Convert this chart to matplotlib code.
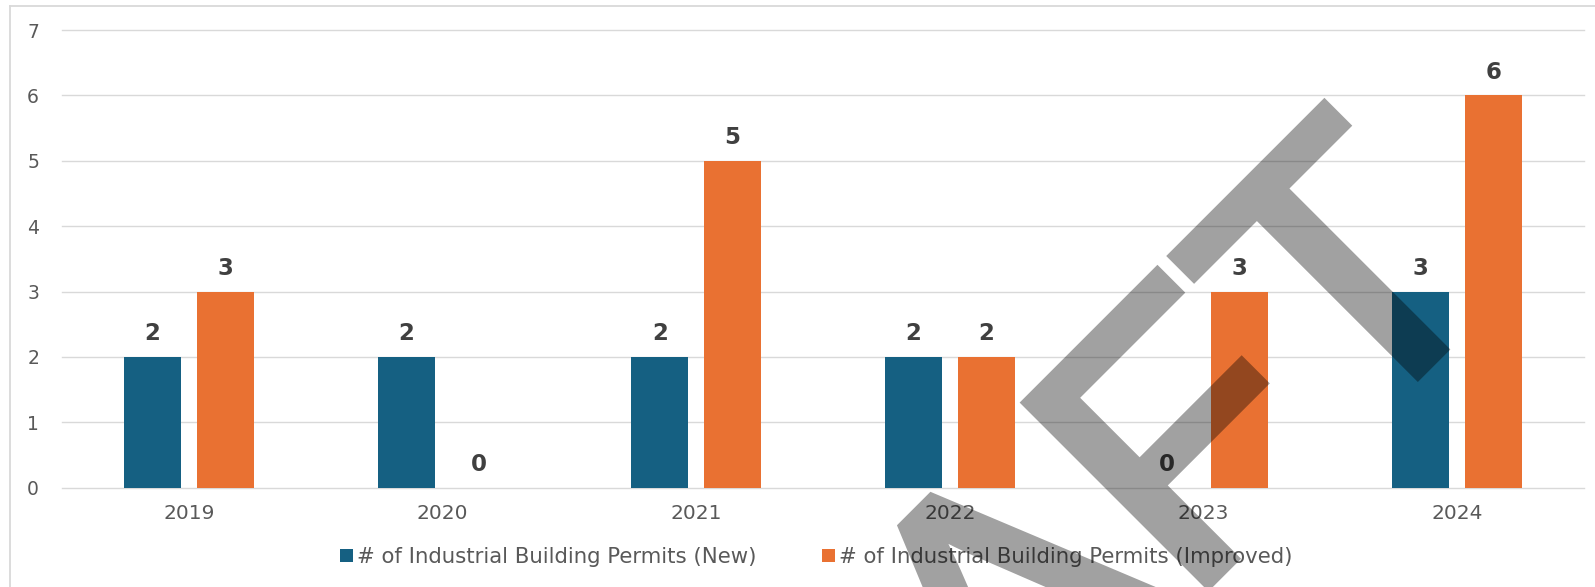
import matplotlib
matplotlib.use('Agg')
import matplotlib.pyplot as plt
from matplotlib.lines import Line2D
from matplotlib.patches import PathPatch
from matplotlib.textpath import TextPath
from matplotlib.font_manager import FontProperties
from matplotlib.transforms import Affine2D
import numpy as np

# ===== DATA =====
years = ['2019', '2020', '2021', '2022', '2023', '2024']
permits_new = [2, 2, 2, 2, 0, 3]
permits_improved = [3, 0, 5, 2, 3, 6]
series_names = ['# of Industrial Building Permits (New)',
                '# of Industrial Building Permits (Improved)']

BLUE = '#156082'
ORANGE = '#E97132'
GRID = '#d9d9d9'
TICK_COLOR = '#595959'
LABEL_COLOR = '#404040'

W, H = 1595, 587
fig = plt.figure(figsize=(W / 100, H / 100), dpi=100)

# chart frame (only left and top edges fall inside the picture)
fig.add_artist(Line2D([9.5 / W, 9.5 / W], [0, 1 - 5.5 / H], color=GRID, lw=1.3,
                      transform=fig.transFigure))
fig.add_artist(Line2D([9.5 / W, 1], [1 - 5.5 / H, 1 - 5.5 / H], color=GRID, lw=1.3,
                      transform=fig.transFigure))

ax = fig.add_axes([62 / W, 1 - 487.7 / H, (1584 - 62) / W, (487.7 - 30) / H])

x = np.arange(len(years))
bw = 0.225
off = 0.143
b1 = ax.bar(x - off, permits_new, bw, color=BLUE, label=series_names[0], zorder=3)
b2 = ax.bar(x + off, permits_improved, bw, color=ORANGE, label=series_names[1], zorder=3)

for bars, vals in ((b1, permits_new), (b2, permits_improved)):
    for rect, v in zip(bars, vals):
        ax.annotate(f'{v}', (rect.get_x() + rect.get_width() / 2, v),
                    xytext=(0, 12), textcoords='offset points',
                    ha='center', va='baseline', fontsize=16.5, fontweight='bold',
                    color=LABEL_COLOR, zorder=4)

ax.set_xlim(-0.5, len(years) - 0.5)
ax.set_ylim(0, 7)
ax.set_yticks(range(0, 8))
ax.set_xticks(x)
ax.set_xticklabels(years)
ax.yaxis.grid(True, color=GRID, linewidth=1.0, zorder=0)
ax.set_axisbelow(True)
for gl in ax.get_ygridlines():
    gl.set_clip_on(False)
for s in ax.spines.values():
    s.set_visible(False)
ax.tick_params(axis='both', length=0)
ax.tick_params(axis='x', pad=11.5, labelsize=14.5, labelcolor=TICK_COLOR)
ax.tick_params(axis='y', pad=16.5, labelsize=13.5, labelcolor=TICK_COLOR)

fig.legend(handles=[b1, b2], labels=series_names, loc='center', ncol=2,
           bbox_to_anchor=(816 / W, 1 - 557 / H), frameon=False,
           fontsize=15.3, labelcolor=TICK_COLOR, handlelength=0.6, handleheight=0.6,
           handletextpad=0.18, columnspacing=3.1)


# watermark: DRAFT text outline, rotated 45 deg, drawn in display pixels.
# Rendered opaque and then faded as a whole so fill and stroke do not stack.
def fade(img, dpi):
    img = img.copy()
    img[..., 3] *= 0.37
    return img, 0, 0


wm = TextPath((0, 0), 'DRAFT', size=1, prop=FontProperties(family='Liberation Sans'))
wm_tr = Affine2D().scale(376, 372).rotate_deg(45).translate(625.3, H - 1166.7)
wm_patch = PathPatch(wm, transform=wm_tr, facecolor='black', edgecolor='black',
                     linewidth=8, joinstyle='miter', zorder=10)
wm_patch.set_agg_filter(fade)
fig.add_artist(wm_patch)

fig.savefig('out.png', dpi=100)
